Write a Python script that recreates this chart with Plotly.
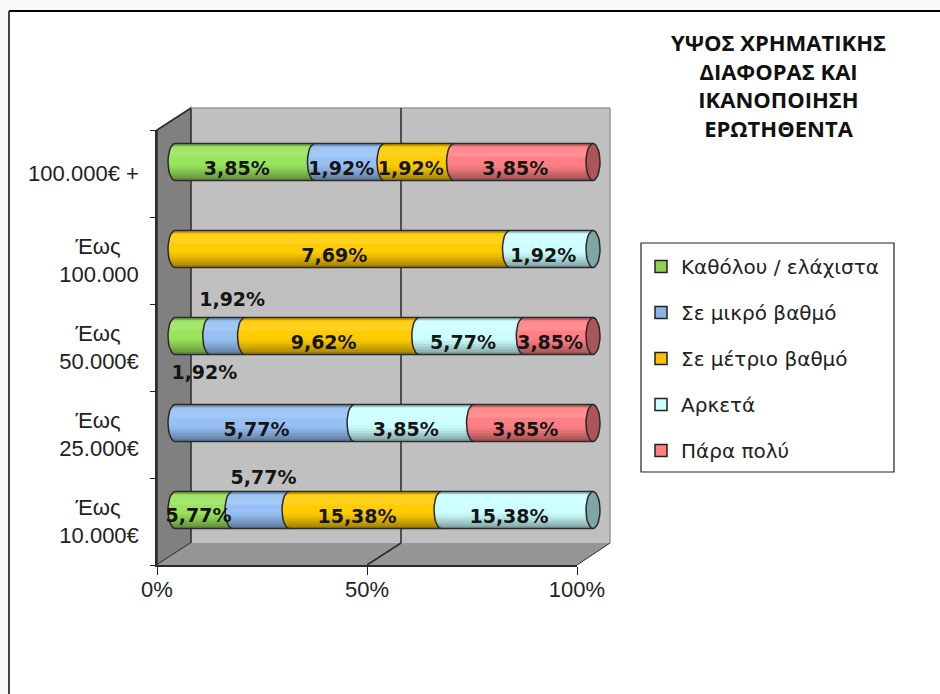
import math
import plotly.graph_objects as go

W, H = 940, 694

categories = ["Έως<br>10.000€", "Έως<br>25.000€", "Έως<br>50.000€", "Έως<br>100.000", "100.000€ +"]
series_names = ["Καθόλου / ελάχιστα", "Σε μικρό βαθμό", "Σε μέτριο βαθμό", "Αρκετά", "Πάρα πολύ"]
katholou = [5.77, 0, 1.92, 0, 3.85]
mikro = [5.77, 5.77, 1.92, 0, 1.92]
metrio = [15.38, 0, 9.62, 7.69, 1.92]
arketa = [15.38, 3.85, 5.77, 1.92, 0]
para_poly = [0, 3.85, 3.85, 0, 3.85]
series_values = [katholou, mikro, metrio, arketa, para_poly]
series_colors = ["#9ae35c", "#97c1f5", "#ffcc00", "#ccffff", "#ff8084"]
legend_colors = ["#92d050", "#8db4e2", "#ffc000", "#ccffff", "#ff8080"]
end_colors = ["#6a9a40", "#6888b0", "#b08c00", "#7fa5a5", "#ab5558"]
ticks_pct = [0, 50, 100]
title_text = "ΥΨΟΣ ΧΡΗΜΑΤΙΚΗΣ<br>ΔΙΑΦΟΡΑΣ ΚΑΙ<br>ΙΚΑΝΟΠΟΙΗΣΗ<br>ΕΡΩΤΗΘΕΝΤΑ"

# pixel helpers (layout only)
def px(x): return x / W
def py(y): return 1 - y / H

# bar plane geometry
X0, X100 = 175.0, 593.0
PX_PER = (X100 - X0) / 100
DOM_L, DOM_R = 150.0, 620.0
BAR_H = 0.425
CAP_A = 7 / PX_PER   # cap half width, in data units
ROW_PX = 87.0
LBL_DX, LBL_DY = -8 / PX_PER, -8.5 / ROW_PX
nudges = {(0, 2): (20, 30), (1, 2): (13, -43), (1, 0): (11, -39), (0, 0): (3, -1)}

fig = go.Figure()
rows = list(range(len(categories)))

for name, vals, lc in zip(series_names, series_values, legend_colors):
    fig.add_trace(go.Bar(
        x=vals, y=rows, orientation="h", name=name, width=BAR_H,
        marker=dict(color=lc, line=dict(width=1.5, color="#222222")), legendgroup=name,
        hoverinfo="x+name"))

totals = [sum(s[r] for s in series_values) for r in rows]
def pct(r, v): return 100 * v / totals[r]

# segment extents
segs = []
for r in rows:
    c = 0.0
    for i, s in enumerate(series_values):
        if s[r] > 0:
            segs.append((r, i, pct(r, c), pct(r, c + s[r])))
        c += s[r]

N_ARC = 14
def left_arc(x, r):
    xs, ys = [], []
    for k in range(N_ARC + 1):
        t = -math.pi / 2 + math.pi * k / N_ARC
        xs.append(x - CAP_A * math.cos(t))
        ys.append(r + BAR_H / 2 * math.sin(t))
    return xs, ys

# coloured body with left cap for each series
for i, col in enumerate(series_colors):
    xs, ys = [], []
    for r, si, a, b in segs:
        if si != i:
            continue
        ax, ay = left_arc(a, r)
        xs += ax + [b, b, ax[0], None]
        ys += ay + [r + BAR_H / 2, r - BAR_H / 2, ay[0], None]
    fig.add_trace(go.Scatter(x=xs, y=ys, mode="lines", fill="toself", fillcolor=col,
                             line=dict(width=0, color=col), showlegend=False, hoverinfo="skip"))

# cylinder shading, top (0) to bottom (1)
def shade(t):
    if t < 0.08:
        return "rgba(0,0,0,0.22)"
    if t < 0.35:
        return "rgba(255,255,255,%.3f)" % (0.12 * min(1, t / 0.2))
    if t < 0.55:
        return "rgba(0,0,0,0)"
    return "rgba(0,0,0,%.3f)" % (0.42 * ((t - 0.55) / 0.45) ** 1.4)

BANDS = 14
for b in range(BANDS):
    t0, t1 = b / BANDS, (b + 1) / BANDS
    xs, ys = [], []
    for r in rows:
        yt = r + BAR_H / 2 - t0 * BAR_H
        yb = r + BAR_H / 2 - t1 * BAR_H
        def lx(y):
            return -CAP_A * math.sqrt(max(0, 1 - ((y - r) / (BAR_H / 2)) ** 2))
        xs += [lx(yt), 100, 100, lx(yb), lx(yt), None]
        ys += [yt, yt, yb, yb, yt, None]
    fig.add_trace(go.Scatter(x=xs, y=ys, mode="lines", fill="toself", fillcolor=shade((t0 + t1) / 2),
                             line=dict(width=0), showlegend=False, hoverinfo="skip"))

# outlines
ox, oy = [], []
for r in rows:
    ox += [0, 100, None, 0, 100, None]
    oy += [r + BAR_H / 2, r + BAR_H / 2, None, r - BAR_H / 2, r - BAR_H / 2, None]
for r, si, a, b in segs:
    ax, ay = left_arc(a, r)
    ox += ax + [None]
    oy += ay + [None]
fig.add_trace(go.Scatter(x=ox, y=oy, mode="lines", line=dict(color="#2a2a2a", width=1.5),
                         showlegend=False, hoverinfo="skip"))

# right end ellipses
for i, c in enumerate(end_colors):
    xs, ys = [], []
    for r, si, a, b in segs:
        if si != i or b < 99.9:
            continue
        for k in range(29):
            t = 2 * math.pi * k / 28
            xs.append(100 + CAP_A * math.cos(t))
            ys.append(r + BAR_H / 2 * math.sin(t))
        xs.append(None)
        ys.append(None)
    if xs:
        fig.add_trace(go.Scatter(x=xs, y=ys, mode="lines", fill="toself", fillcolor=c,
                                 line=dict(color="#2a2a2a", width=1.5), showlegend=False, hoverinfo="skip"))

# data labels
lx_, ly_, lt_ = [], [], []
for r, si, a, b in segs:
    dx, dy = nudges.get((si, r), (0, 0))
    lx_.append((a + b) / 2 + LBL_DX + dx / PX_PER)
    ly_.append(r + LBL_DY - dy / ROW_PX)
    lt_.append(("%.2f%%" % series_values[si][r]).replace(".", ","))
fig.add_trace(go.Scatter(x=lx_, y=ly_, text=lt_, mode="text", textposition="middle center", cliponaxis=False,
                         textfont=dict(family="DejaVu Sans", size=19, color="#151515", weight="bold"),
                         showlegend=False, hoverinfo="skip"))

# front-plane axes
fig.add_trace(go.Scatter(x=[0] * len(categories), y=categories, xaxis="x2", yaxis="y2", mode="markers",
                         marker=dict(size=1, opacity=0), showlegend=False, hoverinfo="skip"))

wall_line = dict(color="#2a2a2a", width=1.5)
def poly(pts, fill, line=None):
    path = "M " + " L ".join("%g,%g" % (px(x), py(y)) for x, y in pts) + " Z"
    return dict(type="path", path=path, xref="paper", yref="paper", fillcolor=fill,
                line=line or dict(width=0), layer="below")
def seg(x0, y0, x1, y1, color="#2a2a2a", width=1.5):
    return dict(type="line", xref="paper", yref="paper", x0=px(x0), y0=py(y0), x1=px(x1), y1=py(y1),
                line=dict(color=color, width=width), layer="below")

shapes = [
    poly([(0, 0), (W, 0), (W, 11), (9, 11), (9, H), (0, H)], "#fafafa"),
    seg(9, 11, W, 11, "#000000", 2),
    seg(9, 11, 9, H, "#444444", 2),
    poly([(191, 108), (610, 108), (610, 543), (191, 543)], "#c0c0c0"),
    poly([(157, 130), (191, 108), (191, 543), (157, 565)], "#808080", wall_line),
    poly([(157, 565), (191, 543), (610, 543), (577, 565)], "#969696"),
    seg(191, 108, 610, 108, "#9a9a9a", 1.5),
    seg(610, 108, 610, 543, "#9a9a9a", 1.5),
    seg(401, 108, 401, 543),
    seg(367, 565, 401, 543),
    seg(577, 565, 610, 543, "#2a2a2a", 1),
    dict(type="rect", xref="paper", yref="paper", x0=px(641), x1=px(894), y0=py(472), y1=py(243),
         line=dict(color="#222222", width=1.2), fillcolor="#ffffff", layer="below"),
]

TICKFONT = dict(family="Liberation Sans", size=22, color="#222222")
PAD = "\u00a0\u00a0\u00a0"
fig.update_layout(
    width=W, height=H, autosize=False, margin=dict(l=0, r=0, t=0, b=0, pad=0, autoexpand=False),
    paper_bgcolor="#ffffff", plot_bgcolor="rgba(0,0,0,0)",
    barmode="stack", barnorm="percent",
    shapes=shapes,
    xaxis=dict(domain=[px(DOM_L), px(DOM_R)],
               range=[(DOM_L - X0) / PX_PER, (DOM_R - X0) / PX_PER],
               visible=False, fixedrange=True),
    yaxis=dict(domain=[py(553.5), py(118.5)], range=[-0.5, 4.5], visible=False, fixedrange=True),
    xaxis2=dict(domain=[px(157), px(577)], range=[0, 100], anchor="y2",
                tickvals=ticks_pct, ticktext=["%d%%" % t for t in ticks_pct],
                ticks="outside", ticklen=8, tickwidth=1.2, tickcolor="#222222",
                showline=True, linecolor="#2a2a2a", linewidth=1.5, showgrid=False, zeroline=False,
                tickfont=TICKFONT, ticklabelstandoff=-4, fixedrange=True),
    yaxis2=dict(domain=[py(565), py(130)], anchor="x2", type="category",
                categoryorder="array", categoryarray=categories, range=[-0.5, 4.5],
                tickson="boundaries", ticks="outside", ticklen=5, tickwidth=1.2, tickcolor="#222222",
                showline=True, linecolor="#2a2a2a", linewidth=1.5, showgrid=False, zeroline=False,
                tickfont=TICKFONT, tickmode="array",
                tickvals=categories,
                ticktext=["Έως" + PAD + "<br>10.000€", "Έως" + PAD + "<br>25.000€",
                          "Έως" + PAD + "<br>50.000€", "Έως" + PAD + "<br>100.000",
                          "100.000€ +"],
                ticklabelstandoff=12, fixedrange=True),
    legend=dict(x=px(641), y=py(247), xanchor="left", yanchor="top", traceorder="grouped",
                tracegroupgap=17, bgcolor="rgba(0,0,0,0)", borderwidth=0,
                font=dict(family="DejaVu Sans", size=20, color="#222222"),
                itemclick=False, itemdoubleclick=False),
    annotations=[dict(text=title_text, xref="paper", yref="paper", x=px(778), y=py(25),
                      xanchor="center", yanchor="top", showarrow=False, align="center",
                      font=dict(family="Open Sans", size=22, color="#111111", weight="bold"))],
)

fig.write_html("out.html", config={"displayModeBar": False},
               post_script="document.body.style.margin='0';document.body.style.overflow='hidden';")
